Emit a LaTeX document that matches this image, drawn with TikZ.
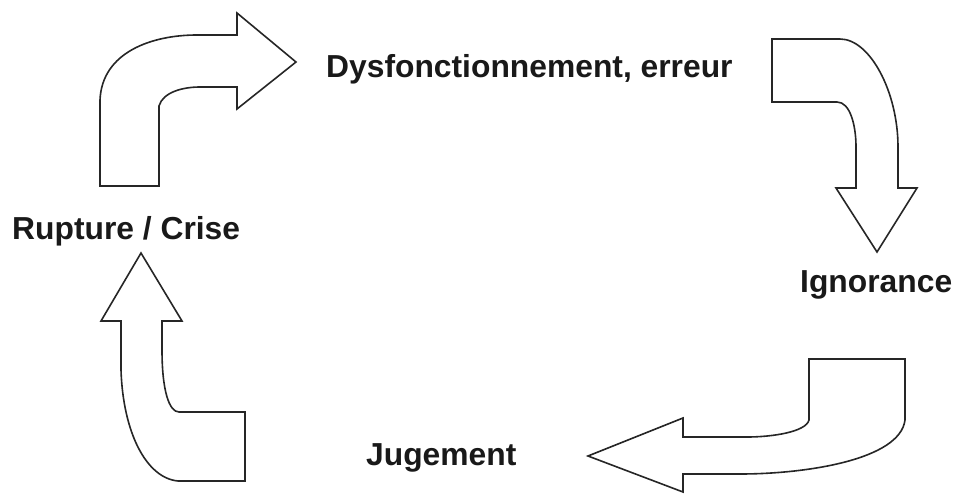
\documentclass[tikz,border=0pt]{standalone}
\usepackage{fontspec}
\setmainfont{Liberation Sans}
\usetikzlibrary{positioning}

\begin{document}
\begin{tikzpicture}[x=1pt,y=-1pt,line join=miter,
                    blockarrow/.style={draw=black!85,line width=1.6pt,fill=white},
                    phase/.style={anchor=base west,inner sep=0pt,
                                  font=\fontsize{31.8}{36}\selectfont\bfseries,text=black!90}]
  \useasboundingbox (0,0) rectangle (958,493);

  \node[phase] (dysf) at (326,77) {Dysfonctionnement, erreur};
  \node[phase] (ignor) at (800,292) {Ignorance};
  \node[phase] (juge) at (366,465) {Jugement};
  \node[phase] (crise) at (12,239) {Rupture / Crise};

  % Rupture -> Dysfonctionnement
  \draw[blockarrow] (100,186) -- (100,100)
        .. controls (102,52) and (152,35) .. (197,35) -- (237,35) -- (237,13)
        -- (296,62) -- (237,109) -- (237,87) -- (200,87)
        .. controls (183,87) and (163,92) .. (159,106) -- (159,186) -- cycle;

  % Dysfonctionnement -> Ignorance
  \draw[blockarrow] (772,39) -- (840,39)
        .. controls (870,39) and (898,92) .. (898,147) -- (898,188) -- (917,188)
        -- (877,252) -- (836,188) -- (856,188) -- (856,147)
        .. controls (856,125) and (850,102) .. (837,102) -- (772,102) -- cycle;

  % Ignorance -> Jugement
  \draw[blockarrow] (809,359) -- (905,359) -- (905,420)
        .. controls (900,460) and (805,474) .. (740,474) -- (683,474) -- (683,492)
        -- (588,456) -- (683,418) -- (683,437) -- (747,437)
        .. controls (772,437) and (806,432) .. (809,420) -- cycle;

  % Jugement -> Rupture
  \draw[blockarrow] (245,412) -- (245,481) -- (178,481)
        .. controls (146,478) and (123,432) .. (121,370) -- (121,321) -- (101,321)
        -- (141,253) -- (182,321) -- (162,321) -- (162,350)
        .. controls (162,390) and (169,412) .. (179,412) -- cycle;
\end{tikzpicture}
\end{document}
